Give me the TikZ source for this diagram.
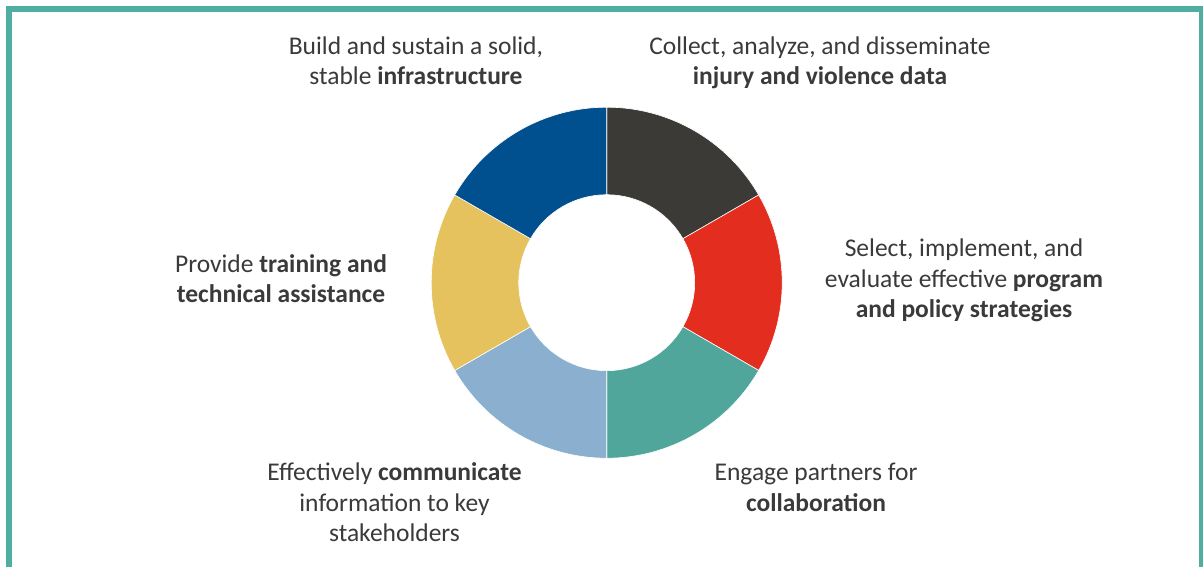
\documentclass[tikz,border=0pt]{standalone}
\usepackage{fontspec}
\setmainfont{Carlito}
\usetikzlibrary{calc}
\definecolor{frameteal}{HTML}{4FADA2}
\definecolor{segblack}{HTML}{3C3A36}
\definecolor{segred}{HTML}{E32D1E}
\definecolor{segteal}{HTML}{50A69A}
\definecolor{seglblue}{HTML}{8AAFCF}
\definecolor{segyellow}{HTML}{E5C25E}
\definecolor{segblue}{HTML}{004F8F}
\definecolor{txtgray}{HTML}{3A3A3A}
\tikzset{
  lbl/.style={anchor=base, align=center, text=txtgray, inner sep=0pt,
    font=\fontsize{25.5}{30.5}\selectfont},
  seg/.style={draw=white, line width=0.6pt}
}
\begin{document}
\begin{tikzpicture}[x=1pt,y=1pt]
\useasboundingbox (0,0) rectangle (1203,567);
\clip (0,0) rectangle (1203,567);
\fill[white] (0,0) rectangle (1203,567);
\draw[frameteal, line width=6pt] (9,-20) -- (9,558) -- (1202,558) -- (1202,-20);
\coordinate (c) at (606.7,284.3);
\def\Ro{175.5}
\def\Ri{88}
\foreach \a/\b/\col in {30/90/segblack, -30/30/segred, -90/-30/segteal, 210/270/seglblue, 150/210/segyellow, 90/150/segblue}{
  \fill[\col, seg] ($(c)+(\a:\Ro)$) arc[start angle=\a, end angle=\b, radius=\Ro]
    -- ($(c)+(\b:\Ri)$) arc[start angle=\b, end angle=\a, radius=\Ri] -- cycle;
}
% anchor=base is the baseline of the last line
\node[lbl] (infra) at (416,482) {Build and sustain a solid,\\stable \textbf{infrastructure}};
\node[lbl] (data) at (820,482) {Collect, analyze, and disseminate\\\textbf{injury and violence data}};
\node[lbl] (prog) at (964,249) {Select, implement, and\\evaluate effective \textbf{program}\\\textbf{and policy strategies}};
\node[lbl] (train) at (281,264) {Provide \textbf{training and}\\\textbf{technical assistance}};
\node[lbl] (comm) at (394.5,25) {Effectively \textbf{communicate}\\information to key\\stakeholders};
\node[lbl] (collab) at (816,55.5) {Engage partners for\\\textbf{collaboration}};
\end{tikzpicture}
\end{document}
